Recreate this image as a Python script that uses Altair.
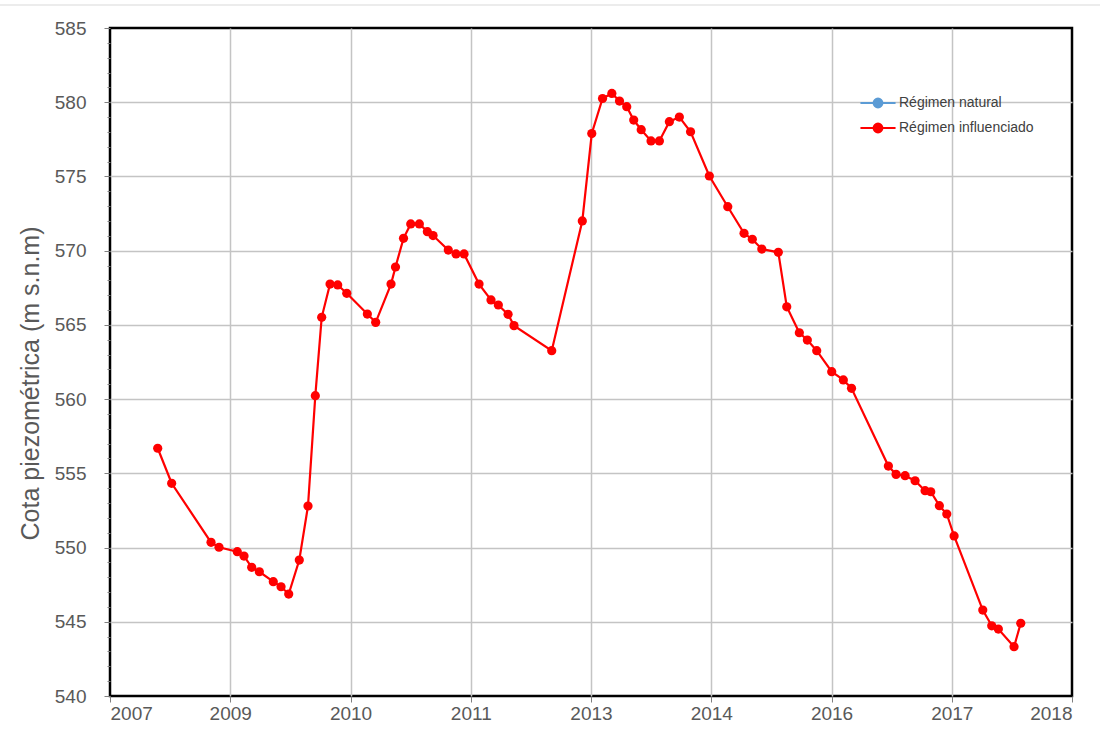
import altair as alt
import pandas as pd

# ---- data (decimal year, cota m s.n.m) ----
YEARS = [2008.302, 2008.464, 2008.921, 2009.014, 2009.226, 2009.304, 2009.393, 2009.482,
         2009.644, 2009.734, 2009.823, 2009.946, 2010.047, 2010.132, 2010.206, 2010.303,
         2010.392, 2010.497, 2010.736, 2010.833, 2011.011, 2011.063, 2011.156, 2011.240,
         2011.340, 2011.433, 2011.499, 2011.676, 2011.766, 2011.859, 2012.033, 2012.172,
         2012.257, 2012.370, 2012.439, 2012.877, 2013.232, 2013.342, 2013.467, 2013.575,
         2013.664, 2013.748, 2013.829, 2013.916, 2014.030, 2014.127, 2014.243, 2014.359,
         2014.489, 2014.707, 2014.921, 2015.110, 2015.206, 2015.316, 2015.508, 2015.606,
         2015.752, 2015.845, 2015.954, 2016.128, 2016.263, 2016.358, 2016.786, 2016.875,
         2016.980, 2017.096, 2017.212, 2017.278, 2017.378, 2017.464, 2017.549, 2017.882,
         2017.986, 2018.063, 2018.245, 2018.323]
LEVELS = [556.69, 554.33, 550.35, 550.02, 549.72, 549.43, 548.67, 548.37,
          547.70, 547.36, 546.87, 549.16, 552.80, 560.23, 565.51, 567.75,
          567.69, 567.13, 565.73, 565.17, 567.75, 568.90, 570.83, 571.80,
          571.80, 571.28, 571.02, 570.04, 569.78, 569.78, 567.75, 566.68,
          566.34, 565.71, 564.95, 563.26, 572.00, 577.89, 580.25, 580.59,
          580.08, 579.70, 578.80, 578.15, 577.39, 577.39, 578.69, 579.00,
          578.01, 575.03, 572.96, 571.17, 570.77, 570.11, 569.89, 566.22,
          564.47, 563.98, 563.26, 561.85, 561.29, 560.73, 555.49, 554.93,
          554.84, 554.50, 553.83, 553.76, 552.82, 552.26, 550.78, 545.79,
          544.73, 544.51, 543.32, 544.90]

SERIES = ["Régimen natural", "Régimen influenciado"]
SERIES_COLORS = ["#5B9BD5", "#FF0000"]
X_TICKS = [2007.748, 2009.144, 2010.541, 2011.937, 2013.333, 2014.730, 2016.126, 2017.522, 2018.918]
Y_TICKS = list(range(540, 586))
Y_TITLE = "Cota piezométrica (m s.n.m)"

FONT = "Liberation Sans"
GRAY = "#595959"

df = pd.DataFrame({"t": YEARS, "cota": LEVELS, "serie": SERIES[1]})

# legend glyph: short line with a dot in the middle (extends beyond the unit box)
LEGEND_PATH = ("M-1.35,0L1.35,0M-0.34,0A0.34,0.34,0,1,1,0.34,0"
               "A0.34,0.34,0,1,1,-0.34,0Z")

legend = alt.Legend(
    title=None,
    orient="none",
    legendX=754,
    legendY=61,
    symbolType=LEGEND_PATH,
    symbolSize=676,
    symbolStrokeWidth=2,
    symbolOpacity=1,
    labelFont=FONT,
    labelFontSize=14,
    labelColor="#404040",
    labelOffset=7,
    rowPadding=2,
)
sc = alt.Scale(domain=SERIES, range=SERIES_COLORS)
stroke = alt.Stroke("serie:N", scale=sc, legend=legend)
fill = alt.Fill("serie:N", scale=sc, legend=legend)

x = alt.X(
    "t:Q",
    title=None,
    scale=alt.Scale(domain=[X_TICKS[0], X_TICKS[-1]], nice=False, zero=False),
    axis=alt.Axis(
        values=X_TICKS,
        labelExpr="floor(datum.value)",
        labelFont=FONT,
        labelFontSize=19,
        labelColor=GRAY,
        labelPadding=2,
        tickSize=6,
        tickColor="#808080",
        tickWidth=1,
        domain=False,
        grid=True,
        gridColor="#C4C4C4",
        gridWidth=1.5,
        gridOpacity={"condition": {"test": "datum.value > 2008 && datum.value < 2018.5",
                                   "value": 1}, "value": 0},
    ),
)

y = alt.Y(
    "cota:Q",
    title=Y_TITLE,
    scale=alt.Scale(domain=[540, 585], nice=False, zero=False),
    axis=alt.Axis(
        values=Y_TICKS,
        labelExpr="datum.value % 5 === 0 ? datum.label : ''",
        labelFont=FONT,
        labelFontSize=19,
        labelColor=GRAY,
        labelPadding=18,
        tickSize={"condition": {"test": "datum.value % 5 === 0", "value": 6}, "value": 3},
        tickColor="#808080",
        tickWidth=1,
        domain=False,
        grid=True,
        gridColor="#C4C4C4",
        gridWidth=1.5,
        gridOpacity={"condition": {"test": "datum.value % 5 === 0 && datum.value > 540 && datum.value < 585",
                                   "value": 1}, "value": 0},
        titleFont=FONT,
        titleFontSize=25,
        titleFontWeight="normal",
        titleColor=GRAY,
        titleX=-80,
        titleY=355,
        titleBaseline="middle",
        titleAngle=270,
    ),
)

base = alt.Chart(df).encode(x=x, y=y)
line = base.mark_line(strokeWidth=2.2).encode(stroke=stroke)
pts = base.mark_circle(size=85, opacity=1, strokeWidth=0).encode(fill=fill, stroke=stroke)

sep = alt.Chart(alt.Data(values=[{}])).mark_rule(color="#E6E6E6", strokeWidth=1.5).encode(
    x=alt.value(-110), x2=alt.value(990), y=alt.value(-23)
)

chart = alt.layer(sep, line, pts).properties(
    width=962,
    height=668,
    padding={"left": 110, "top": 28, "right": 28, "bottom": 44},
    autosize=alt.AutoSizeParams(type="none"),
    background="white",
).configure_view(
    stroke="black",
    strokeWidth=2.5,
)

chart.save("out.html", embed_options={"renderer": "svg", "actions": False})
